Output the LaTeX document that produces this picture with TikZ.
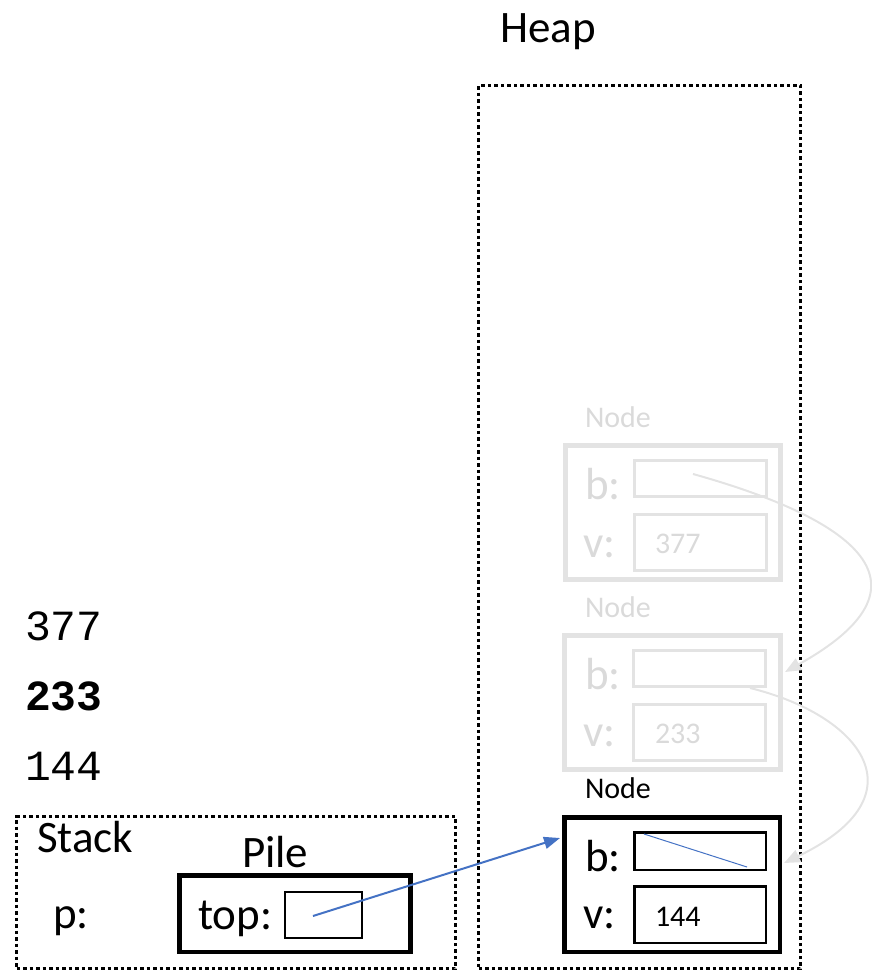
\documentclass[tikz,border=0pt]{standalone}
\usepackage{fontspec}
\setmainfont{Carlito}
\newfontfamily\codefont{Liberation Mono}
\usetikzlibrary{arrows.meta}
\definecolor{linkblue}{HTML}{4472C4}
\definecolor{faded}{HTML}{E3E3E3}
\definecolor{fadedtext}{HTML}{DADADA}
\newcommand{\bigtxt}{\fontsize{45}{50}\selectfont}
\newcommand{\smalltxt}{\fontsize{30}{34}\selectfont}
\newcommand{\codetxt}{\codefont\fontsize{43}{48}\selectfont}

\begin{document}
\begin{tikzpicture}[
	x=1pt, y=-1pt,
	every node/.style={inner sep=0pt, outer sep=0pt},
	bigword/.style={anchor=base west, font=\bigtxt},
	smallword/.style={anchor=base west, font=\smalltxt},
	codeword/.style={anchor=base west, font=\codetxt},
	region/.style={draw, line width=3.5pt, dash pattern=on 3.5pt off 3pt},
	framebox/.style={draw, line width=4.5pt, minimum width=215.5pt, minimum height=134.5pt},
	fieldbox/.style={draw, line width=2.5pt, minimum width=131.5pt},
	ghost/.style={draw=faded, text=fadedtext},
	ghostlink/.style={draw=faded, line width=2pt, -{Triangle[length=16pt, width=13pt]}},
	link/.style={draw=linkblue, line width=2pt, -{Triangle[length=16pt, width=12pt]}}
]
\useasboundingbox (0,0) rectangle (872,972);

% memory regions
\node[bigword, anchor=base] (heaptitle) at (548,42) {Heap};
\node[region, minimum width=322pt, minimum height=883pt] (heap) at (639.5,527) {};
\node[region, minimum width=439pt, minimum height=152pt] (stack) at (236,892.5) {};
\node[bigword] (stacktitle) at (37,852) {Stack};

% values printed
\node[codeword] (out377) at (25,640) {377};
\node[codeword] (out233) at (25,710) {\bfseries 233};
\node[codeword] (out144) at (25,780) {144};

% stack frame
\node[bigword] (pvar) at (53,928) {p:};
\node[bigword] (piletitle) at (242,867) {Pile};
\node[framebox, minimum width=231pt, minimum height=76.5pt] (pile) at (295,913.5) {};
\node[bigword] (toplabel) at (198,929) {top:};
\node[draw, line width=2pt, minimum width=77pt, minimum height=46pt] (topbox) at (323.5,915) {};

% node holding 377 (faded)
\node[smallword, text=fadedtext] (n1title) at (585,427) {Node};
\node[framebox, ghost, line width=5pt] (n1) at (673,512.5) {};
\node[fieldbox, ghost, line width=3pt, minimum height=36pt] (n1b) at (700.5,478.5) {};
\node[fieldbox, ghost, line width=3pt, minimum height=56pt] (n1v) at (700.5,542.5) {};
\node[bigword, text=fadedtext] (n1blabel) at (585,499) {b:};
\node[bigword, text=fadedtext] (n1vlabel) at (583,557) {v:};
\node[smallword, text=fadedtext] (n1val) at (655,553) {377};

% node holding 233 (faded)
\node[smallword, text=fadedtext] (n2title) at (585,617) {Node};
\node[framebox, ghost, line width=5pt] (n2) at (672.5,702.5) {};
\node[fieldbox, ghost, line width=3pt, minimum height=36pt] (n2b) at (699.5,668.5) {};
\node[fieldbox, ghost, line width=3pt, minimum height=56pt] (n2v) at (699.5,732.5) {};
\node[bigword, text=fadedtext] (n2blabel) at (585,689) {b:};
\node[bigword, text=fadedtext] (n2vlabel) at (583,746) {v:};
\node[smallword, text=fadedtext] (n2val) at (655,743) {233};

% node holding 144
\node[smallword] (n3title) at (585,798) {Node};
\node[framebox] (n3) at (672,884.5) {};
\node[fieldbox, minimum height=37.5pt] (n3b) at (700,851) {};
\node[fieldbox, minimum height=56.5pt] (n3v) at (700,914.5) {};
\node[bigword] (n3blabel) at (585,871) {b:};
\node[bigword] (n3vlabel) at (583,928) {v:};
\node[smallword] (n3val) at (655,926) {144};

% pointers
\coordinate (n1ptr) at (693,474);
\coordinate (n2ptr) at (750,688);
\coordinate (n2in) at (785,672);
\coordinate (n3in) at (784,863);
\coordinate (topptr) at (313,916);
\coordinate (n3left) at (560,838);
\coordinate (nullfrom) at (644,834);
\coordinate (nullto) at (747,867);

\draw[ghostlink] (n1ptr) .. controls (840,515) and (950,580) .. (n2in);
\draw[ghostlink] (n2ptr) .. controls (860,715) and (925,795) .. (n3in);
\draw[link] (topptr) -- (n3left);
\draw[linkblue, line width=1pt] (nullfrom) -- (nullto);
\end{tikzpicture}
\end{document}
